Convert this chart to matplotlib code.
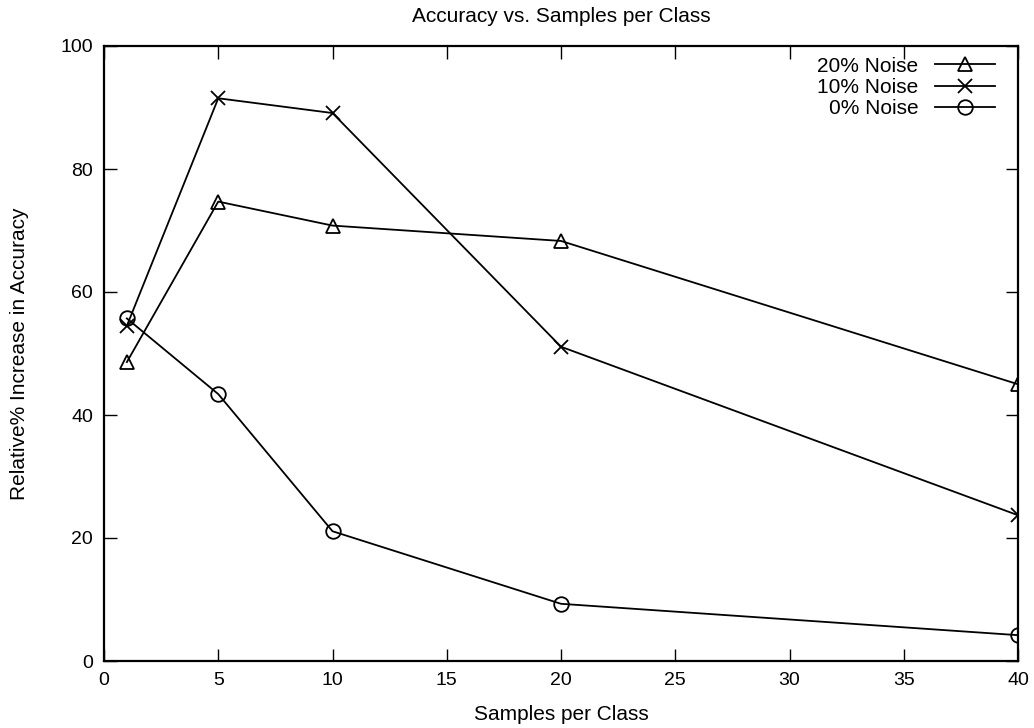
import matplotlib
matplotlib.use("Agg")
import matplotlib.pyplot as plt

plt.rcParams['font.family'] = ['Liberation Sans', 'DejaVu Sans']

samples = [1, 5, 10, 20, 40]
noise20 = [48.6, 74.7, 70.8, 68.3, 45.0]
noise10 = [54.5, 91.5, 89.1, 51.1, 23.7]
noise0 = [55.7, 43.4, 21.1, 9.3, 4.2]
series_labels = ["20% Noise", "10% Noise", "0% Noise"]
xticks = [0, 5, 10, 15, 20, 25, 30, 35, 40]
yticks = [0, 20, 40, 60, 80, 100]

fig = plt.figure(figsize=(10.34, 7.28), dpi=100)
ax = fig.add_axes([104/1034, 1-661/728, (1018-104)/1034, (661-46)/728])

common = dict(color='black', lw=1.3, markerfacecolor='none', markeredgecolor='black',
              markeredgewidth=1.3, markersize=10.5)
ax.plot(samples, noise20, marker='^', label=series_labels[0], **common)
ax.plot(samples, noise10, marker='x', label=series_labels[1], **common)
ax.plot(samples, noise0, marker='o', label=series_labels[2], **common)

ax.set_xlim(0, 40)
ax.set_ylim(0, 100)
ax.set_xticks(xticks)
ax.set_yticks(yticks)
ax.tick_params(direction='in', length=9, width=1, top=True, right=True,
               labelsize=14, pad=8)
for s in ax.spines.values():
    s.set_linewidth(1.6)

ax.set_title("Accuracy vs. Samples per Class", fontsize=15,
             y=1 + (46 - 17) / 615, va='center', pad=0)
ax.set_xlabel("Samples per Class", fontsize=15)
ax.set_ylabel("Relative% Increase in Accuracy", fontsize=15)
ax.xaxis.set_label_coords(0.5, -(714 - 661) / 615)
ax.yaxis.set_label_coords(-(104 - 20) / 914, 0.5)
ax.xaxis.label.set_va('center')
ax.yaxis.label.set_va('center')

leg = ax.legend(loc='upper right', frameon=False, markerfirst=False, fontsize=15,
                handlelength=2.9, labelspacing=0.1, borderaxespad=0.0,
                bbox_to_anchor=(1 - 14.4 / 914, 1 - 2.4 / 615),
                handletextpad=0.8)

fig.savefig("out.png", dpi=100)
